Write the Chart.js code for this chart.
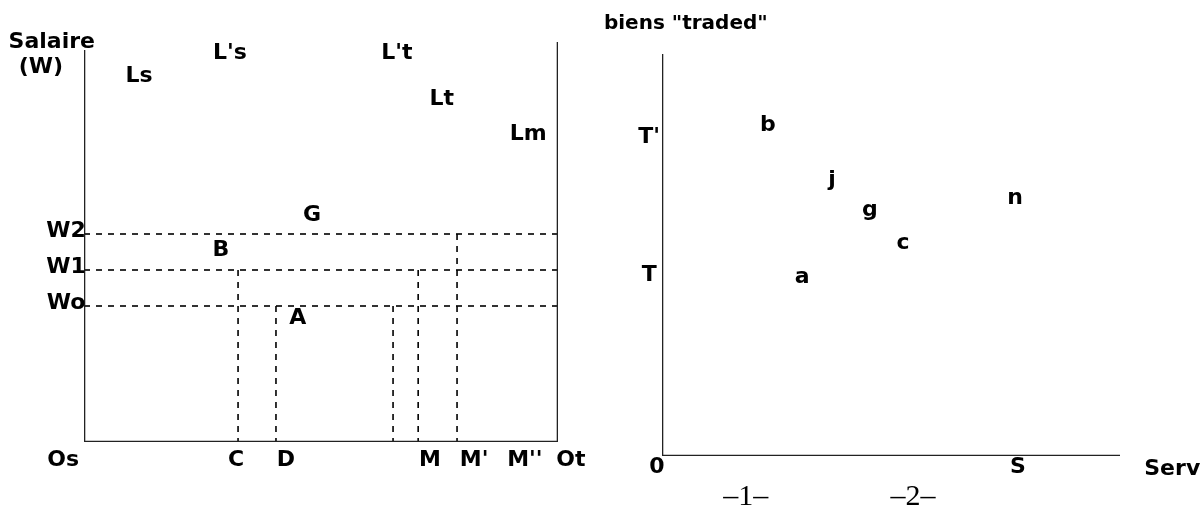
<!DOCTYPE html>
<html>
<head>
<meta charset="utf-8">
<script src="https://cdn.jsdelivr.net/npm/chart.js@4.4.1/dist/chart.umd.min.js"></script>
<style>
  html, body { margin: 0; padding: 0; background: #fff; }
  #wrap { position: relative; width: 1202px; height: 520px; }
  .panel { position: absolute; top: 0; height: 520px; }
  #left { left: 0; width: 600px; }
  #right { left: 600px; width: 602px; }
</style>
</head>
<body>
<div id="wrap">
  <div class="panel" id="left"><canvas id="labourMarket"></canvas></div>
  <div class="panel" id="right"><canvas id="tradedGoods"></canvas></div>
</div>
<script>
// --- left panel : wage box (x 0 = Os, 100 = Ot ; y 0..100 wage) ---
const wageLevels = [34, 43, 52];            // Wo, W1, W2
const wageNames = ["Wo", "W1", "W2"];
const cutPoints = [32.5, 40.5, 65.2, 70.5, 78.7]; // C, D, (unnamed), M, M'
const cutTops = [43, 34, 34, 43, 52];
const boxX = [0, 0, 100, 100];
const boxY = [98, 0, 0, 100];

const leftTexts = ["Salaire", "(W)", "Ls", "L's", "L't", "Lt", "Lm", "G", "B", "A"];
const leftTextX = [-6.8, -9.1, 11.6, 30.8, 66.0, 75.5, 93.7, 48.1, 28.9, 45.1];
const leftTextY = [100, 93.8, 91.5, 97.3, 97.3, 85.8, 77, 56.8, 48, 31];
const bottomNames = ["Os", "C", "D", "M", "M'", "M''", "Ot"];
const bottomX = [-4.4, 32.1, 42.6, 73.0, 82.3, 93.0, 102.7];

// --- right panel : traded goods vs services ---
const axisX = [0, 0, 100];
const axisY = [100, 0, 0];
const pointNames = ["b", "j", "g", "c", "n", "a"];
const pointX = [23.1, 37.1, 45.4, 52.6, 77.1, 30.6];
const pointY = [82.3, 68.7, 61.2, 53, 64.2, 44.5];
const levelNames = ["T'", "T"];
const levelY = [79.4, 45];
const serviceNames = ["0", "S"];
const serviceX = [-1.1, 77.7];
const figureNames = ["–1–", "–2–"];
const figureX = [18.3, 54.8];

const boldFont = 'bold 22px "DejaVu Sans"';

const textPlugin = {
  id: "textLabels",
  afterDatasetsDraw(chart, args, opts) {
    const { ctx } = chart;
    const x = chart.scales.x, y = chart.scales.y;
    ctx.save();
    ctx.fillStyle = "#000";
    ctx.textBaseline = "middle";
    opts.items.forEach((it) => {
      ctx.font = it.font || boldFont;
      ctx.textAlign = it.align || "center";
      ctx.fillText(it.text, x.getPixelForValue(it.x), y.getPixelForValue(it.y));
    });
    ctx.restore();
  },
};

function pts(xs, ys) {
  return xs.map((v, i) => ({ x: v, y: ys[i] }));
}

function lineSet(data, dashed) {
  return {
    data: data,
    showLine: true,
    pointRadius: 0,
    borderColor: dashed ? "#000" : "#222",
    borderWidth: dashed ? 1.6 : 2.6,
    borderDash: dashed ? [6, 6] : [],
    fill: false,
    tension: 0,
  };
}

function baseOptions(padding, xMin, xMax, yMin, yMax, items) {
  return {
    responsive: true,
    maintainAspectRatio: false,
    animation: false,
    layout: { padding: padding },
    scales: {
      x: { type: "linear", min: xMin, max: xMax, display: false },
      y: { type: "linear", min: yMin, max: yMax, display: false },
    },
    plugins: {
      legend: { display: false },
      tooltip: { enabled: false },
      textLabels: { items: items },
    },
  };
}

// left chart
const leftSets = [lineSet(pts(boxX, boxY), false)];
wageLevels.forEach((w) => {
  leftSets.push(lineSet([{ x: 0, y: w }, { x: 100, y: w }], true));
});
cutPoints.forEach((c, i) => {
  leftSets.push(lineSet([{ x: c, y: cutTops[i] }, { x: c, y: 0 }], true));
});

const leftItems = [];
leftTexts.forEach((t, i) => leftItems.push({ text: t, x: leftTextX[i], y: leftTextY[i] }));
wageNames.forEach((t, i) => leftItems.push({ text: t, x: -3.8, y: wageLevels[i] + 0.8 }));
bottomNames.forEach((t, i) => leftItems.push({ text: t, x: bottomX[i], y: -4.5 }));

new Chart(document.getElementById("labourMarket"), {
  type: "scatter",
  data: { datasets: leftSets },
  options: baseOptions({ left: 84, right: 42, top: 42, bottom: 78 }, 0, 100, 0, 100, leftItems),
  plugins: [textPlugin],
});

// right chart
const rightItems = [];
rightItems.push({ text: 'biens "traded"', x: 5.2, y: 107.5, font: 'bold 20px "DejaVu Sans"' });
levelNames.forEach((t, i) => rightItems.push({ text: t, x: -2.8, y: levelY[i] }));
pointNames.forEach((t, i) => rightItems.push({ text: t, x: pointX[i], y: pointY[i] }));
serviceNames.forEach((t, i) => rightItems.push({ text: t, x: serviceX[i], y: -2.7 }));
rightItems.push({ text: "Services", x: 105.3, y: -3.2, align: "left" });
figureNames.forEach((t, i) =>
  rightItems.push({ text: t, x: figureX[i], y: -10.2, font: '30px "Liberation Serif"' })
);

new Chart(document.getElementById("tradedGoods"), {
  type: "scatter",
  data: { datasets: [lineSet(pts(axisX, axisY), false)] },
  options: baseOptions({ left: 62, right: 82, top: 54, bottom: 64 }, 0, 100, 0, 100, rightItems),
  plugins: [textPlugin],
});
</script>
</body>
</html>
